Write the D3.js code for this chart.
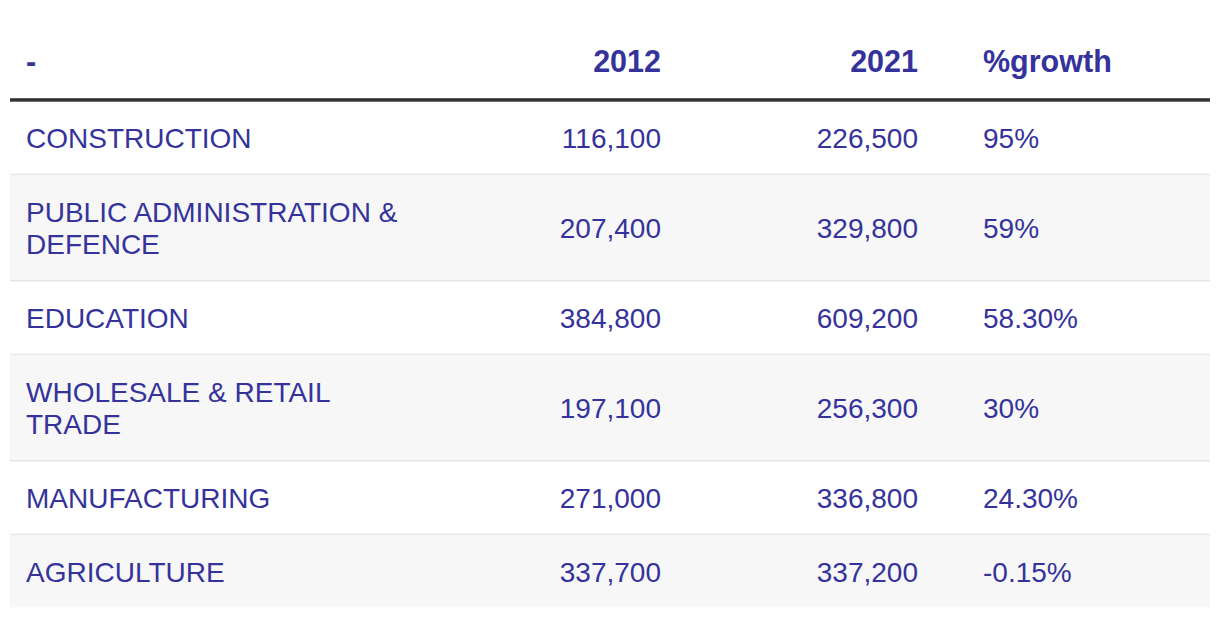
<!DOCTYPE html>
<html>
<head>
<meta charset="utf-8">
<script src="https://cdn.jsdelivr.net/npm/d3@7"></script>
<style>
  html, body { margin: 0; padding: 0; background: #ffffff; }
  svg { display: block; font-family: "Liberation Sans", Arial, sans-serif; }
</style>
</head>
<body>
<svg id="chart" width="1220" height="618"></svg>
<script>
const headers = ["-", "2012", "2021", "%growth"];
const categories = [
  "CONSTRUCTION",
  "PUBLIC ADMINISTRATION & DEFENCE",
  "EDUCATION",
  "WHOLESALE & RETAIL TRADE",
  "MANUFACTURING",
  "AGRICULTURE"
];
const values2012 = [116100, 207400, 384800, 197100, 271000, 337700];
const values2021 = [226500, 329800, 609200, 256300, 336800, 337200];
const growthLabels = ["95%", "59%", "58.30%", "30%", "24.30%", "-0.15%"];

const svg = d3.select("#chart");
const W = 1220, H = 618;
const left = 10, right = 1210;
const textColor = "#35339b";
const fmt = d3.format(",");

svg.append("rect").attr("width", W).attr("height", H).attr("fill", "#ffffff");

// column anchors
const cols = [
  { x: 26, anchor: "start" },
  { x: 661, anchor: "end" },
  { x: 918, anchor: "end" },
  { x: 983, anchor: "start" }
];

// header
const headerBaseline = 72;
svg.selectAll("text.hdr").data(headers).join("text")
  .attr("class", "hdr")
  .attr("x", (d, i) => cols[i].x)
  .attr("y", headerBaseline)
  .attr("text-anchor", (d, i) => cols[i].anchor)
  .attr("font-size", 30.5)
  .attr("font-weight", "bold")
  .attr("fill", textColor)
  .text(d => d);

// wrap labels
const maxLabelW = 390;
const measure = svg.append("text").attr("font-size", 28).attr("visibility", "hidden");
function wrap(str) {
  const words = str.split(" ");
  const lines = [];
  let cur = "";
  words.forEach(w => {
    const test = cur ? cur + " " + w : w;
    measure.text(test);
    if (measure.node().getComputedTextLength() > maxLabelW && cur) {
      lines.push(cur); cur = w;
    } else cur = test;
  });
  if (cur) lines.push(cur);
  return lines;
}
const wrapped = categories.map(wrap);
measure.remove();

const lineH = 32;
const singleH = 72;
const extraLineH = 32.6;
const borderH = 1.7;
let y0 = 101.7;
const rows = categories.map((c, i) => {
  const h = singleH + (wrapped[i].length - 1) * extraLineH;
  const r = { i, y: y0, h, lines: wrapped[i] };
  y0 += h + borderH;
  return r;
});

const g = svg.selectAll("g.row").data(rows).join("g").attr("class", "row");

g.append("rect")
  .attr("x", left).attr("width", right - left)
  .attr("y", d => d.y).attr("height", d => d.h)
  .attr("fill", d => d.i % 2 === 1 ? "#f7f7f7" : "#ffffff");

g.filter(d => d.i < rows.length - 1).append("rect")
  .attr("x", left).attr("width", right - left)
  .attr("y", d => d.y + d.h).attr("height", borderH)
  .attr("fill", "#e6e6e6");

const mid = d => d.y + d.h / 2;

g.each(function(d) {
  const sel = d3.select(this);
  const n = d.lines.length;
  const t = sel.append("text")
    .attr("font-size", 28).attr("fill", textColor)
    .attr("text-anchor", "start");
  d.lines.forEach((ln, k) => {
    t.append("tspan")
      .attr("x", cols[0].x)
      .attr("y", mid(d) + 10.5 + (k - (n - 1) / 2) * lineH)
      .text(ln);
  });
  const vals = [fmt(values2012[d.i]), fmt(values2021[d.i]), growthLabels[d.i]];
  vals.forEach((v, j) => {
    sel.append("text")
      .attr("x", cols[j + 1].x)
      .attr("y", mid(d) + 10.5)
      .attr("text-anchor", cols[j + 1].anchor)
      .attr("font-size", 28).attr("fill", textColor)
      .text(v);
  });
});

// header bottom thick line
svg.append("rect").attr("x", left).attr("width", right - left)
  .attr("y", 98.2).attr("height", 3.5).attr("fill", "#333333");
</script>
</body>
</html>
